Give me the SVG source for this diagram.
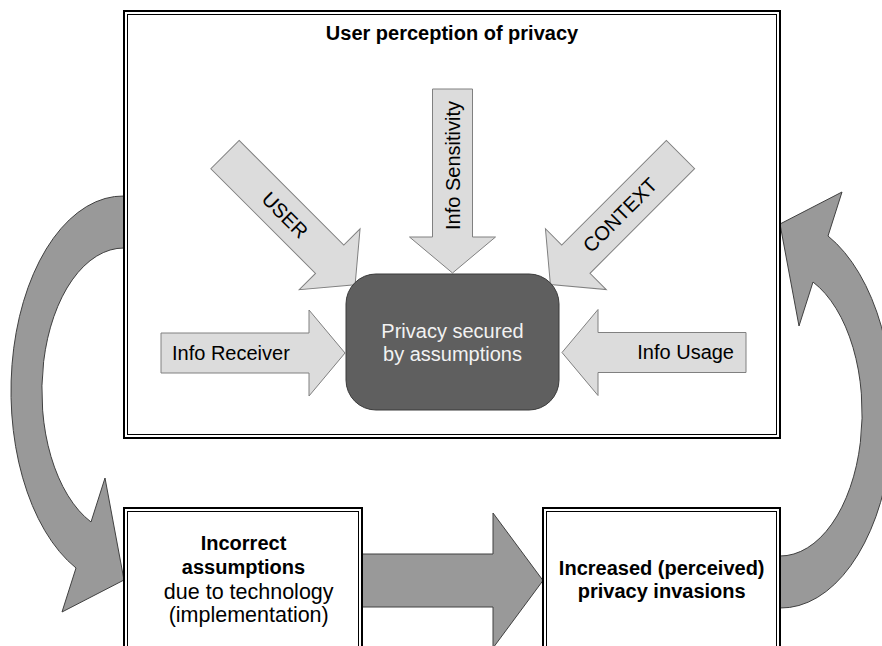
<svg xmlns="http://www.w3.org/2000/svg" xmlns:xlink="http://www.w3.org/1999/xlink" width="882" height="646" viewBox="0 0 882 646">
  <style>
    text { font-family: "Liberation Sans", Arial, sans-serif; fill: #000; }
    .bold { font-weight: bold; font-size: 20px; }
    .reg { font-size: 20px; }
    .big { font-size: 21.5px; }
    .light { fill: #dcdcdc; stroke: #808080; stroke-width: 1; }
    .dark { fill: #999999; stroke: #404040; stroke-width: 1; }
    .frame-out { fill: none; stroke: #000; stroke-width: 2; }
    .frame-in { fill: none; stroke: #000; stroke-width: 1; }
    .core { fill: #5f5f5f; stroke: #3a3a3a; stroke-width: 1; }
    .core-text { fill: #f2f2f2; font-size: 20px; }
  </style>
  <defs>
    <!-- block arrow pointing along +x, starting at the origin -->
    <path id="blockArrow" d="M0,-20 H148 V-43 L184,0 L148,43 V20 H0 Z"/>
    <!-- curved return arrow on the left side -->
    <path id="loopArrow" d="M124,196 A112 195 0 0 0 76,568 L62,612 L124,580 L105,478 L91,522 A82 143 0 0 1 124,248 Z"/>
  </defs>

  <rect width="882" height="646" fill="#fff"/>

  <!-- connectors -->
  <g id="connectors">
    <use xlink:href="#loopArrow" href="#loopArrow" class="dark"/>
    <use xlink:href="#loopArrow" href="#loopArrow" class="dark" transform="rotate(180 452 402)"/>
    <polygon class="dark" points="362,554 493,554 493,513 543,580.5 493,648 493,607 362,607"/>
  </g>

  <!-- upper frame -->
  <g id="perception">
    <rect x="124" y="11" width="656" height="427" fill="#fff" class="frame-out"/>
    <rect x="127.5" y="14.5" width="649" height="420" class="frame-in"/>
    <text class="bold" x="452" y="40" text-anchor="middle">User perception of privacy</text>
  </g>

  <g id="user">
    <use xlink:href="#blockArrow" href="#blockArrow" class="light" transform="translate(225,154.6) rotate(45)"/>
    <text class="reg" transform="translate(285,215) rotate(45)" text-anchor="middle" dy="7">USER</text>
  </g>

  <g id="sensitivity">
    <use xlink:href="#blockArrow" href="#blockArrow" class="light" transform="translate(452.5,89) rotate(90)"/>
    <text class="reg" transform="translate(459.5,165.5) rotate(-90)" text-anchor="middle">Info Sensitivity</text>
  </g>

  <g id="context">
    <use xlink:href="#blockArrow" href="#blockArrow" class="light" transform="translate(680.5,154.5) rotate(135)"/>
    <text class="reg" transform="translate(620,215) rotate(-45)" text-anchor="middle" dy="7">CONTEXT</text>
  </g>

  <g id="receiver">
    <use xlink:href="#blockArrow" href="#blockArrow" class="light" transform="translate(161,353)"/>
    <text class="reg" x="172" y="360">Info Receiver</text>
  </g>

  <g id="usage">
    <use xlink:href="#blockArrow" href="#blockArrow" class="light" transform="translate(746,352.5) rotate(180)"/>
    <text class="reg" x="734" y="359" text-anchor="end">Info Usage</text>
  </g>

  <g id="privacy-core">
    <rect class="core" x="346" y="274" width="213" height="136" rx="30" ry="30"/>
    <text class="core-text" x="452.5" y="338" text-anchor="middle">Privacy secured</text>
    <text class="core-text" x="452.5" y="361" text-anchor="middle">by assumptions</text>
  </g>

  <!-- lower boxes -->
  <g id="incorrect">
    <rect x="124" y="508" width="238" height="160" fill="#fff" class="frame-out"/>
    <rect x="127.5" y="511.5" width="231" height="160" class="frame-in"/>
    <text class="bold" x="243.5" y="550" text-anchor="middle">Incorrect</text>
    <text class="bold" x="243.5" y="574" text-anchor="middle">assumptions</text>
    <text class="big" x="248.7" y="599" text-anchor="middle">due to technology</text>
    <text class="big" x="248.7" y="622" text-anchor="middle">(implementation)</text>
  </g>

  <g id="invasions">
    <rect x="543" y="508" width="237" height="160" fill="#fff" class="frame-out"/>
    <rect x="546.5" y="511.5" width="230" height="160" class="frame-in"/>
    <text class="bold" x="661.7" y="575" text-anchor="middle">Increased (perceived)</text>
    <text class="bold" x="661.7" y="598" text-anchor="middle">privacy invasions</text>
  </g>
</svg>
